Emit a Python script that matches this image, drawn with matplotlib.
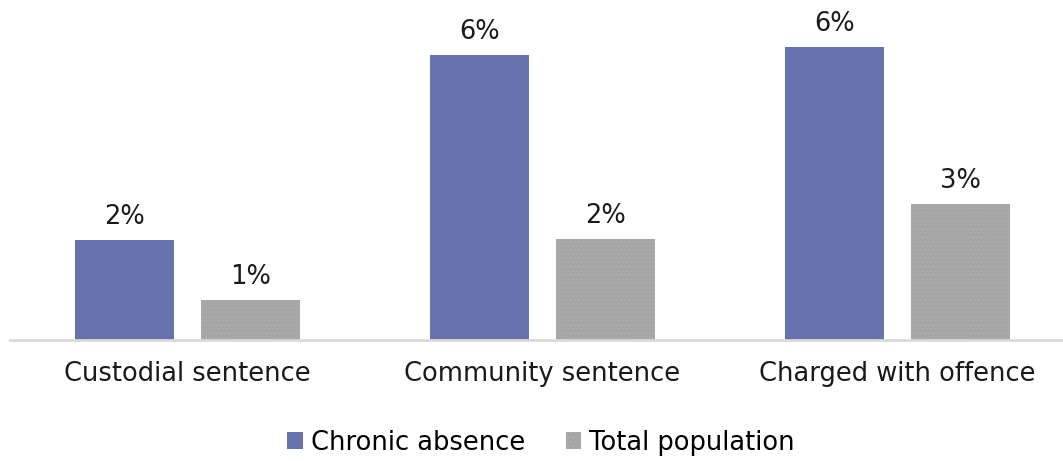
import numpy as np
import matplotlib
matplotlib.use("Agg")
import matplotlib.pyplot as plt
from matplotlib.patches import Patch

plt.rcParams["font.family"] = "DejaVu Sans"
plt.rcParams["hatch.linewidth"] = 0.6
plt.rcParams["hatch.color"] = "#9a9a9a"

categories = ["Custodial sentence", "Community sentence", "Charged with offence"]
chronic_absence = [2.08, 5.94, 6.10]
total_population = [0.83, 2.10, 2.83]
series_names = ["Chronic absence", "Total population"]

BLUE = "#6673ad"
GREY = "#a6a6a6"
FS = 18.5

fig = plt.figure(figsize=(10.63, 4.61), dpi=100)
ax = fig.add_axes([10 / 1063, 121 / 461, 1065 / 1063, 336 / 461])

x = np.arange(len(categories))
w = 0.279
off = 0.177

b1 = ax.bar(x - off, chronic_absence, w, color=BLUE, linewidth=0)
b2 = ax.bar(x + off, total_population, w, color=GREY, hatch="....",
            edgecolor="#b0b0b0", linewidth=0)

for bars, vals in ((b1, chronic_absence), (b2, total_population)):
    for r, v in zip(bars, vals):
        ax.annotate(f"{v:.0f}%", (r.get_x() + r.get_width() / 2, v),
                    xytext=(0, 7), textcoords="offset points",
                    ha="center", va="bottom", fontsize=FS, color="#1a1a1a")

ax.set_xlim(-0.5, 2.5)
ax.set_ylim(0, 7)
ax.set_xticks(x)
ax.set_xticklabels(categories, fontsize=FS, color="#1a1a1a")
ax.tick_params(axis="x", length=0, pad=15)
ax.set_yticks([])
for s in ("top", "right", "left"):
    ax.spines[s].set_visible(False)
ax.spines["bottom"].set_color("#d9d9d9")
ax.spines["bottom"].set_linewidth(2)

handles = [Patch(facecolor=BLUE, linewidth=0),
           Patch(facecolor=GREY, hatch="....", edgecolor="#b0b0b0", linewidth=0)]
fig.legend(handles, series_names, loc="center", bbox_to_anchor=(0.509, 0.04),
           ncol=2, frameon=False, fontsize=FS, handlelength=0.6, handleheight=0.6,
           handletextpad=0.3, columnspacing=1.6)

fig.savefig("out.png", dpi=100)
